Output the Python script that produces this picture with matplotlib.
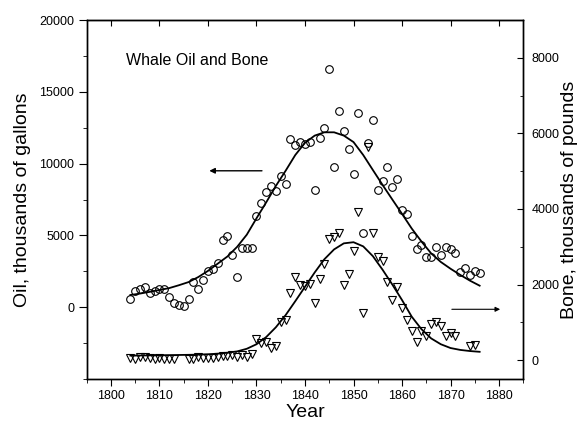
import numpy as np
import matplotlib
matplotlib.use("Agg")
import matplotlib.pyplot as plt
from matplotlib.ticker import MultipleLocator

plt.rcParams['font.family'] = ['Liberation Sans', 'DejaVu Sans']

# годовые данные: китовый жир (тыс. галлонов)
oil_years = np.arange(1804, 1877)
oil = [550, 1130, 1250, 1390, 970, 1150, 1270, 1250, 690, 270,
       150, 80, 590, 1730, 1250, 1890, 2540, 2640, 3060, 4660,
       4980, 3610, 2100, 4120, 4120, 4120, 6370, 7280, 8040, 8440,
       8090, 9140, 8560, 11730, 11300, 11520, 11340, 11480, 8160, 11780,
       12500, 16570, 9780, 13680, 12270, 11040, 9250, 13500, 5170, 11460,
       13010, 8140, 8790, 9780, 8350, 8930, 6750, 6470, 4960, 4080,
       4330, 3500, 3520, 4210, 3630, 4210, 4080, 3750, 2470, 2710,
       2220, 2520, 2360]

# китовый ус (тыс. фунтов)
bone_years = [1804, 1805, 1806, 1807, 1808, 1809, 1810, 1811, 1812, 1813,
              1816, 1817, 1818, 1819, 1820, 1821, 1822, 1823, 1824, 1825,
              1826, 1827, 1828, 1829, 1830, 1831, 1832, 1833, 1834, 1835,
              1836, 1837, 1838, 1839, 1840, 1841, 1842, 1843, 1844, 1845,
              1846, 1847, 1848, 1849, 1850, 1851, 1852, 1853, 1854, 1855,
              1856, 1857, 1858, 1859, 1860, 1861, 1862, 1863, 1864, 1865,
              1866, 1867, 1868, 1869, 1870, 1871, 1874, 1875]
bone = [60, 30, 70, 90, 50, 40, 60, 30, 40, 20,
        30, 40, 70, 50, 60, 60, 80, 100, 120, 140,
        90, 130, 80, 170, 550, 450, 490, 310, 370, 1000,
        1050, 1770, 2210, 1990, 1960, 2010, 1500, 2140, 2540, 3200,
        3250, 3360, 2000, 2280, 2890, 3920, 1250, 5650, 3360, 2720,
        2620, 2080, 1590, 1940, 1370, 1060, 780, 490, 780, 640,
        960, 1020, 910, 640, 730, 640, 380, 400]

# сглаживающие кривые
fit_years = np.arange(1804, 1877, 2)
oil_fit = [850, 950, 1070, 1200, 1330, 1530, 1750, 2100, 2530, 3030,
           3530, 4200, 5050, 6190, 7300, 8450, 9500, 10600, 11450, 11950,
           12180, 12180, 11950, 11500, 10600, 9550, 8510, 7500, 6500, 5480,
           4580, 3750, 3150, 2680, 2250, 1850, 1500]
bone_fit = [120, 122, 125, 128, 132, 136, 140, 145, 155, 170,
            195, 230, 300, 420, 610, 870, 1190, 1560, 1940, 2320,
            2670, 2930, 3090, 3120, 3010, 2750, 2390, 2000, 1590, 1150,
            820, 575, 420, 320, 270, 240, 220]

fig = plt.figure(figsize=(5.83, 4.34), dpi=100)
ax = fig.add_axes([0.1487, 0.1267, 0.7489, 0.8272])
ax2 = ax.twinx()

ax.plot(oil_years, oil, 'o', ms=5.5, mfc='none', mec='black', mew=0.8)
ax.plot(fit_years, oil_fit, 'k-', lw=1.3)
ax2.plot(bone_years, bone, 'v', ms=6, mfc='none', mec='black', mew=0.8)
ax2.plot(fit_years, bone_fit, 'k-', lw=1.3)

ax.set_xlim(1795, 1885)
ax.set_ylim(-5000, 20000)
ax2.set_ylim(-500, 9000)

ax.xaxis.set_major_locator(MultipleLocator(10))
ax.xaxis.set_minor_locator(MultipleLocator(5))
ax.set_yticks([0, 5000, 10000, 15000, 20000])
ax.yaxis.set_minor_locator(MultipleLocator(2500))
ax2.yaxis.set_major_locator(MultipleLocator(2000))
ax2.yaxis.set_minor_locator(MultipleLocator(1000))

ax.tick_params(axis='x', which='major', direction='out', length=5, labelsize=9, pad=3)
ax.tick_params(axis='x', which='minor', direction='out', length=3)
ax.tick_params(axis='y', which='major', direction='out', length=5.5, labelsize=9)
ax.tick_params(axis='y', which='minor', direction='out', length=3)
ax2.tick_params(axis='y', which='major', direction='in', length=4, labelsize=9, pad=6)
ax2.tick_params(axis='y', which='minor', direction='in', length=2.5)

top = ax.secondary_xaxis('top')
top.xaxis.set_major_locator(MultipleLocator(10))
top.tick_params(direction='in', length=4, labeltop=False)

for a in (ax, ax2):
    for s in a.spines.values():
        s.set_linewidth(1.0)

ax.set_xlabel('Year', fontsize=14, labelpad=1)
ax.set_ylabel('Oil, thousands of gallons', fontsize=14, labelpad=6)
ax2.set_ylabel('Bone, thousands of pounds', fontsize=14, labelpad=1)

ax.text(1803.1, 17200, 'Whale Oil and Bone', fontsize=11.5, va='center')

ax.annotate('', xy=(1819.7, 9500), xytext=(1831.7, 9500),
            arrowprops=dict(arrowstyle='-|>', color='black', lw=1, mutation_scale=8))
ax2.annotate('', xy=(1880.8, 1345), xytext=(1869.7, 1345),
             arrowprops=dict(arrowstyle='-|>', color='black', lw=0.8, mutation_scale=7))

fig.savefig('out.png', dpi=100)
